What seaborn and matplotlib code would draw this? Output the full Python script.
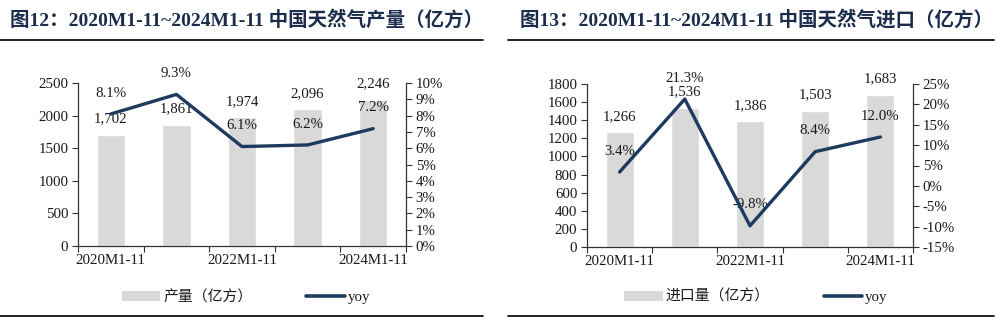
import matplotlib
matplotlib.use("Agg")
import matplotlib.pyplot as plt
from matplotlib.lines import Line2D
from matplotlib.patches import Patch
from matplotlib.ticker import FixedLocator, FuncFormatter
import seaborn as sns
import pandas as pd

sns.set_theme(style="white")
plt.rcParams['font.family'] = ['Liberation Serif', 'Noto Sans CJK SC', 'DejaVu Sans']
plt.rcParams['axes.unicode_minus'] = False

# ---- data ----
categories = ["2020M1-11", "2021M1-11", "2022M1-11", "2023M1-11", "2024M1-11"]
prod_values = [1702, 1861, 1974, 2096, 2246]
prod_yoy = [8.1, 9.3, 6.1, 6.2, 7.2]
imp_values = [1266, 1536, 1386, 1503, 1683]
imp_yoy = [3.4, 21.3, -9.8, 8.4, 12.0]

title_left = "图12：2020M1-11~2024M1-11 中国天然气产量（亿方）"
title_right = "图13：2020M1-11~2024M1-11 中国天然气进口（亿方）"
bar_label_left = "产量（亿方）"
bar_label_right = "进口量（亿方）"
line_label = "yoy"

BAR_C = "#D9D9D9"
LINE_C = "#1F3A5F"
TXT_C = "#1A1A1A"
TITLE_C = "#1C2C4C"
SPINE_C = "#333333"
FS = 10.7

W, H = 997, 322
fig = plt.figure(figsize=(W / 100, H / 100), dpi=100)


def px_axes(x0, x1, ytop, ybot):
    return fig.add_axes([x0 / W, (H - ybot) / H, (x1 - x0) / W, (ybot - ytop) / H])


def panel(ax, values, yoy, ylim, yticks, y2lim, y2ticks, bar_name, ldx):
    df = pd.DataFrame({"cat": categories, "val": values, "yoy": yoy})
    sns.barplot(data=df, x="cat", y="val", color=BAR_C, width=0.43,
                saturation=1, ax=ax, zorder=2)
    ax.set_xlim(-0.5, len(categories) - 0.5)
    ax.set_ylim(*ylim)
    ax.set_yticks(yticks)
    ax.set_yticklabels([str(v) for v in yticks], fontsize=FS, color=TXT_C)
    ax.set_xlabel("")
    ax.set_ylabel("")
    ax.set_xticks(range(len(categories)))
    ax.set_xticklabels([c if i % 2 == 0 else "" for i, c in enumerate(categories)],
                       fontsize=FS, color=TXT_C)
    ax.xaxis.set_minor_locator(FixedLocator([i - 0.5 for i in range(len(categories) + 1)]))
    ax.tick_params(axis="x", which="major", length=0, pad=6)
    ax.tick_params(axis="x", which="minor", length=4, width=0.8, color=SPINE_C, direction="out", bottom=True)
    ax.tick_params(axis="y", length=4, width=0.8, color=SPINE_C, direction="out", left=True, pad=3)
    for s in ["top", "right"]:
        ax.spines[s].set_visible(False)
    for s in ["left", "bottom"]:
        ax.spines[s].set_color(SPINE_C)
        ax.spines[s].set_linewidth(0.9)

    ax2 = ax.twinx()
    sns.lineplot(x=list(range(len(categories))), y=yoy, color=LINE_C, linewidth=2.4,
                 ax=ax2, zorder=5)
    ax2.set_ylim(*y2lim)
    ax2.set_yticks(y2ticks)
    ax2.yaxis.set_major_formatter(FuncFormatter(lambda v, p: f"{v:.0f}%"))
    ax2.tick_params(axis="y", length=4, width=0.8, color=SPINE_C, direction="out",
                    right=True, labelsize=FS, labelcolor=TXT_C, pad=3)
    for s in ["top", "left", "bottom"]:
        ax2.spines[s].set_visible(False)
    ax2.spines["right"].set_color(SPINE_C)
    ax2.spines["right"].set_linewidth(0.9)
    ax2.set_xlim(-0.5, len(categories) - 0.5)
    ax2.grid(False)
    ax.grid(False)

    for i, v in enumerate(values):
        ax.annotate(f"{v:,}", xy=(i, v), xytext=(0, 11.5), textcoords="offset points",
                    ha="center", va="center", fontsize=FS, color=TXT_C)
    for i, v in enumerate(yoy):
        ax.annotate(f"{v:.1f}%", xy=(i, v), xycoords=ax2.transData, xytext=(0, 15),
                    textcoords="offset points", ha="center", va="center",
                    fontsize=FS, color=TXT_C, annotation_clip=False)

    handles = [Patch(facecolor=BAR_C, edgecolor="none"),
               Line2D([0], [0], color=LINE_C, linewidth=2.6)]
    leg = fig.legend(handles, [bar_name, line_label], ncol=2, frameon=False,
                     loc="center", bbox_to_anchor=(ldx / W, (H - 297) / H),
                     fontsize=FS, handlelength=2.6, handleheight=0.7,
                     columnspacing=3.6, handletextpad=0.2)
    for t in leg.get_texts():
        t.set_color(TXT_C)
    return ax2


axL = px_axes(78, 406, 83, 246)
panel(axL, prod_values, prod_yoy, (0, 2500), list(range(0, 2501, 500)),
      (0, 10), list(range(0, 11, 1)), bar_label_left, 246)

axR = px_axes(587, 913, 84, 247)
panel(axR, imp_values, imp_yoy, (0, 1800), list(range(0, 1801, 200)),
      (-15, 25), list(range(-15, 26, 5)), bar_label_right, 756)

# titles
fig.text(10 / W, (H - 20) / H, title_left, fontsize=14, fontweight="bold",
         color=TITLE_C, ha="left", va="center")
fig.text(520 / W, (H - 20) / H, title_right, fontsize=14, fontweight="bold",
         color=TITLE_C, ha="left", va="center")

# rule lines
for (x0, x1) in [(0, 483), (508, 994)]:
    for y in (39.5, 316):
        fig.add_artist(Line2D([x0 / W, x1 / W], [(H - y) / H, (H - y) / H],
                              color="#111111", linewidth=1.3, transform=fig.transFigure))

fig.savefig("out.png", dpi=100, facecolor="white")
